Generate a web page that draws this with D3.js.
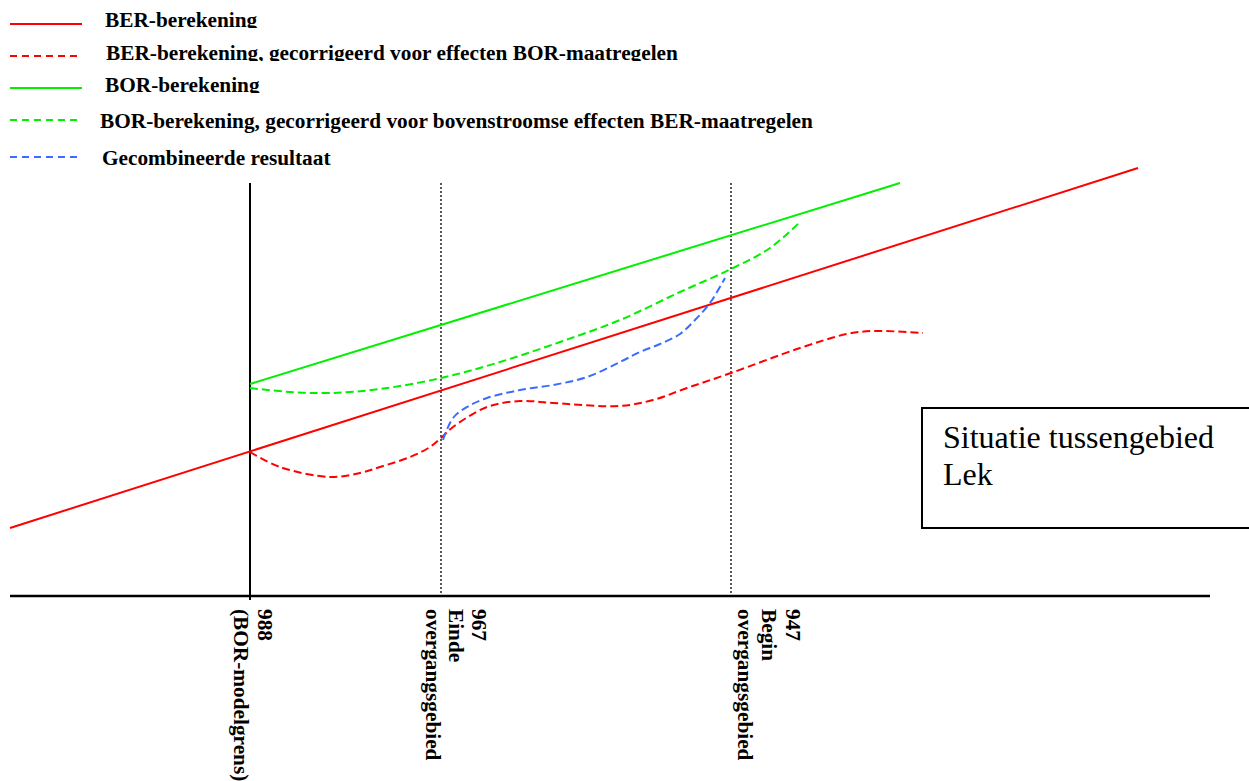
<!DOCTYPE html>
<html>
<head>
<meta charset="utf-8">
<script src="https://cdn.jsdelivr.net/npm/d3@7"></script>
<style>
  html, body { margin: 0; padding: 0; background: #fff; }
  svg { display: block; }
  text { font-family: "Liberation Serif", "Times New Roman", serif; }
</style>
</head>
<body>
<svg id="chart" width="1249" height="781"></svg>
<script>
// River-kilometre markers along the schematic reach (position along x, label lines)
const markerPos   = [24, 43.1, 72.1];
const markerLines = [
  ["988", "(BOR-modelgrens)"],
  ["967", "Einde", "overgangsgebied"],
  ["947", "Begin", "overgangsgebied"]
];

// Water-level schematics: [position, level]
const berCalc = [[0, 6.8], [112.8, 42.8]];
const borCalc = [[24, 21.2], [89, 41.3]];
const borCorrected = [
  [24, 20.8], [28, 20.4], [32, 20.3], [37, 20.7], [43.1, 21.8], [49, 23.4],
  [55, 25.4], [61, 27.6], [67, 30.4], [72.1, 32.7], [76, 34.8], [79, 37.4]
];
const berCorrected = [
  [24, 14.4], [27, 12.9], [32, 11.9], [35, 12.3], [37, 12.9], [40, 13.9],
  [42, 14.9], [43.1, 15.8], [44.3, 16.9], [47.7, 18.9], [51, 19.5], [54.3, 19.3],
  [61, 19.0], [64.3, 19.6], [67.7, 20.8], [72.1, 22.3], [79, 24.8], [83.7, 26.2],
  [86.3, 26.5], [91.3, 26.3]
];
const combined = [
  [43.3, 15.6], [44.3, 17.8], [45.7, 18.9], [47.7, 19.8], [51, 20.6], [54.3, 21.1],
  [57.7, 21.9], [61, 23.4], [63, 24.4], [65, 25.2], [67, 26.2], [68.5, 27.6],
  [70, 29.3], [71.5, 31.8]
];

const legendLabels = [
  "BER-berekening",
  "BER-berekening, gecorrigeerd voor effecten BOR-maatregelen",
  "BOR-berekening",
  "BOR-berekening, gecorrigeerd voor bovenstroomse effecten BER-maatregelen",
  "Gecombineerde resultaat"
];
const boxLines = ["Situatie tussengebied", "Lek"];

// ---- styling / layout ----
const series = [
  { data: berCalc,      color: "#ff0000", dash: null },
  { data: berCorrected, color: "#ff0000", dash: "8,4" },
  { data: borCalc,      color: "#00f000", dash: null },
  { data: borCorrected, color: "#00f000", dash: "8,4" },
  { data: combined,     color: "#3a6cff", dash: "8,4" }
];
const labelFont = 21.3;

const svg = d3.select("#chart");
const x = d3.scaleLinear().domain([0, 120]).range([10, 1210]);
const y = d3.scaleLinear().domain([0, 43]).range([596, 166]);

// Legend
const legendRows = [
  { lineY: 24,  textX: 105, baseY: 27,  clipTo: 28 },
  { lineY: 56,  textX: 106, baseY: 60,  clipTo: 61 },
  { lineY: 88,  textX: 105, baseY: 92,  clipTo: 93 },
  { lineY: 120, textX: 100, baseY: 128, clipTo: null },
  { lineY: 157, textX: 102, baseY: 165, clipTo: null }
];
const defs = svg.append("defs");
const legend = svg.append("g");
legendLabels.forEach((lab, i) => {
  const r = legendRows[i], s = series[i];
  legend.append("line")
    .attr("x1", 10).attr("x2", 82).attr("y1", r.lineY).attr("y2", r.lineY)
    .attr("stroke", s.color).attr("stroke-width", 2)
    .attr("stroke-dasharray", s.dash ? "7,5" : null);
  const t = legend.append("text")
    .attr("x", r.textX).attr("y", r.baseY)
    .attr("font-size", labelFont).attr("font-weight", "bold").attr("fill", "#000")
    .text(lab);
  if (r.clipTo !== null) {
    const id = "legclip" + i;
    defs.append("clipPath").attr("id", id).append("rect")
      .attr("x", 0).attr("y", r.baseY - 30).attr("width", 1249).attr("height", r.clipTo - (r.baseY - 30));
    t.attr("clip-path", `url(#${id})`);
  }
});

// Horizontal axis
svg.append("line")
  .attr("x1", x(0)).attr("x2", x(120)).attr("y1", y(0)).attr("y2", y(0))
  .attr("stroke", "#000").attr("stroke-width", 2.5);

// Vertical markers: model boundary (solid) and transition-zone edges (dotted)
const topY = 183;
markerPos.forEach((p, i) => {
  svg.append("line")
    .attr("x1", x(p)).attr("x2", x(p))
    .attr("y1", topY).attr("y2", i === 0 ? y(0) + 4 : y(0))
    .attr("stroke", "#000")
    .attr("stroke-width", i === 0 ? 2 : 1.3)
    .attr("stroke-dasharray", i === 0 ? null : "2,2");
});

// Marker labels, rotated to read downward
const labelOffset = [8, 31, 55];
const labelStep = [24, 23, 24];
markerPos.forEach((p, i) => {
  markerLines[i].forEach((ln, j) => {
    const bx = x(p) + labelOffset[i] - j * labelStep[i];
    svg.append("text")
      .attr("transform", `translate(${bx},609) rotate(90)`)
      .attr("font-size", labelFont).attr("font-weight", "bold").attr("fill", "#000")
      .text(ln);
  });
});

// Series lines
const line = d3.line()
  .x(d => x(d[0])).y(d => y(d[1]))
  .curve(d3.curveCatmullRom.alpha(0.5));
series.forEach(s => {
  svg.append("path")
    .attr("d", line(s.data))
    .attr("fill", "none")
    .attr("stroke", s.color)
    .attr("stroke-width", 2)
    .attr("stroke-dasharray", s.dash);
});

// Annotation box
svg.append("rect")
  .attr("x", 922).attr("y", 408).attr("width", 340).attr("height", 120)
  .attr("fill", "#fff").attr("stroke", "#000").attr("stroke-width", 2);
boxLines.forEach((t, i) => {
  svg.append("text")
    .attr("x", 943).attr("y", 448 + i * 37)
    .attr("font-size", 32).attr("fill", "#000")
    .text(t);
});
</script>
</body>
</html>
